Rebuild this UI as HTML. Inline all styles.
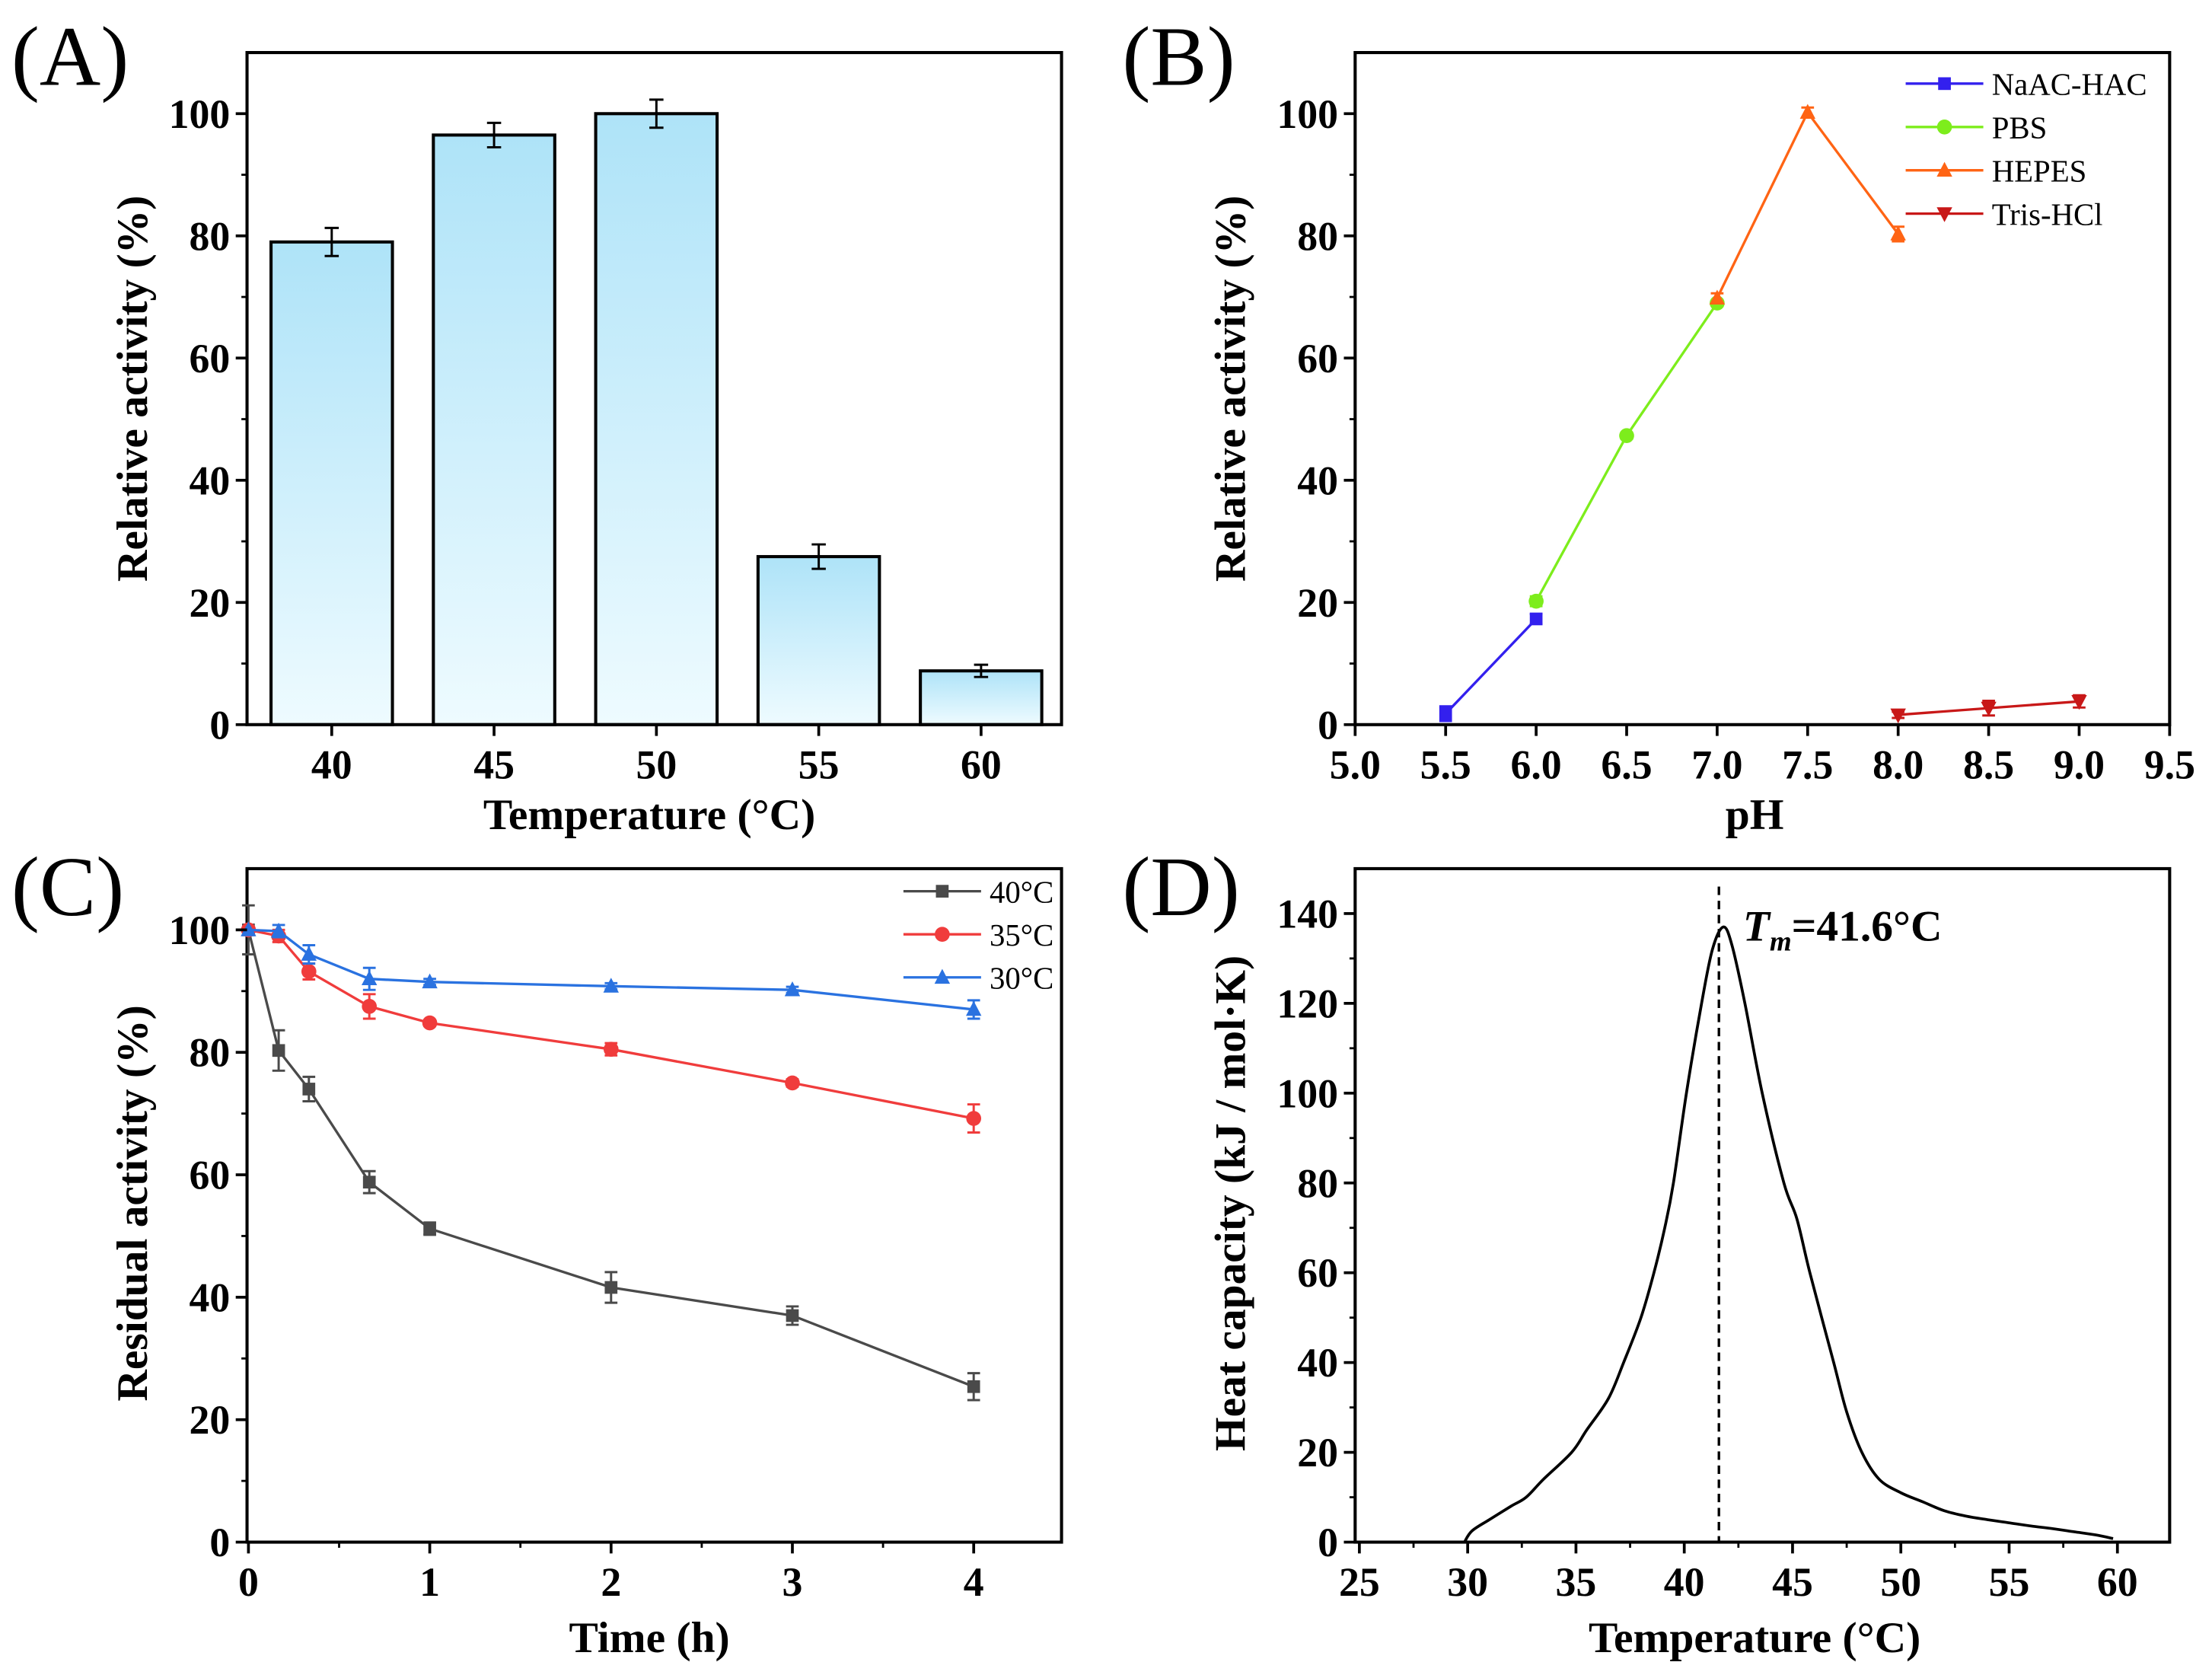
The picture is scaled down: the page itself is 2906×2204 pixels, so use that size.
<!DOCTYPE html>
<html><head><meta charset="utf-8">
<style>
html,body{margin:0;padding:0;background:#fff;}
svg{display:block;font-family:"Liberation Serif",serif;}
.tk{font-weight:bold;font-size:29px;}
.at{font-weight:bold;font-size:31px;}
.pl{font-size:60px;}
.lg{font-size:22px;}
</style></head>
<body>
<svg id="fig" width="2906" height="2204" viewBox="0 0 1567 1188" xmlns="http://www.w3.org/2000/svg">
<defs>
<linearGradient id="barg" x1="0" y1="0" x2="0" y2="1">
<stop offset="0" stop-color="#aee3f8"/><stop offset="1" stop-color="#eefbff"/>
</linearGradient>
</defs>
</svg>
<script>
// Panel A data
const aCats = ["40","45","50","55","60"];
const aVals = [79, 96.5, 100, 27.5, 8.8];
const aErr = [2.3, 2, 2.3, 2, 1];
const yTicksA = [0,20,40,60,80,100];
// Panel B data
const bNaX = [5.5, 6.0];
const bNaY = [1.8, 17.3];
const bNaE = [1.2, 0.8];
const bPbsX = [6.0, 6.5, 7.0];
const bPbsY = [20.2, 47.3, 69];
const bPbsE = [0.8, 0.5, 0.5];
const bHepX = [7.0, 7.5, 8.0];
const bHepY = [69.8, 100.2, 80.3];
const bHepE = [0.8, 0.8, 1.2];
const bTrisX = [8.0, 8.5, 9.0];
const bTrisY = [1.6, 2.7, 3.8];
const bTrisE = [0.5, 1.2, 1.0];
const xTicksB = ["5.0","5.5","6.0","6.5","7.0","7.5","8.0","8.5","9.0","9.5"];
// Panel C data
const cTimes = [0, 1/6, 1/3, 2/3, 1, 2, 3, 4];
const c40 = [100, 80.3, 74, 58.8, 51.2, 41.6, 37, 25.4];
const c40E = [4, 3.3, 2, 1.8, 1, 2.5, 1.5, 2.2];
const c35 = [100, 99, 93.2, 87.5, 84.8, 80.5, 75, 69.2];
const c35E = [0, 1, 1.3, 2, 0.5, 1, 0.6, 2.3];
const c30 = [100, 99.8, 96, 92, 91.5, 90.8, 90.2, 87];
const c30E = [0, 1, 1.5, 1.8, 0.5, 0.5, 0.5, 1.5];
const xTicksC = [0,1,2,3,4];
// Panel D data
const dT = [29.85,30.2,31,32,32.7,33.5,34.8,35.5,36.5,37.2,38,38.6,39.1,39.5,40.1,40.8,41.3,41.8,42.2,42.8,43.6,44.6,45.2,45.8,46.9,47.5,48.2,49,50,51,52,53,54,55,56,57,58,59,59.8];
const dCp = [0,2.5,5,8,10,14,20,25,32,40,50,60,70,80,100,120,132,137,133,120,100,80,72,60,40,29,20,14,11,9,7,5.8,5,4.3,3.6,3,2.3,1.6,0.8];
const dTm = 41.6;
const xTicksD = [25,30,35,40,45,50,55,60];
const yTicksD = [0,20,40,60,80,100,120,140];

const NS="http://www.w3.org/2000/svg";
const svg=document.getElementById('fig');
function mk(tag, attrs, parent, text){
  const e=document.createElementNS(NS,tag);
  for(const k in attrs) e.setAttribute(k,attrs[k]);
  if(text!==undefined) e.textContent=text;
  (parent||svg).appendChild(e);
  return e;
}
function lin(d0,d1,r0,r1){return v=>r0+(v-d0)*(r1-r0)/(d1-d0);}

function frame(g,L,T,R,B){
  const f=mk('rect',{x:L,y:T,width:R-L,height:B-T,fill:'none',stroke:'#000','stroke-width':2.2},g);
  
  
}
function yAxis(g,L,ys,ticks,minors,fmt){
  ticks.forEach(v=>{
    const t=mk('line',{x1:L-8,x2:L,y1:ys(v),y2:ys(v),stroke:'#000','stroke-width':2},g);
    
    
    const lb=mk('text',{x:L-12,y:ys(v)+10,'text-anchor':'end',class:'tk'},g,fmt?fmt(v):String(v));
    
    
  });
  minors.forEach(v=>{
    const t=mk('line',{x1:L-4,x2:L,y1:ys(v),y2:ys(v),stroke:'#000','stroke-width':1.5},g);
    
    
  });
}
function xAxis(g,B,xs,ticks,labels,minors){
  ticks.forEach((v,i)=>{
    const t=mk('line',{x1:xs(v),x2:xs(v),y1:B,y2:B+8,stroke:'#000','stroke-width':2},g);
    
    
    const lb=mk('text',{x:xs(v),y:B+38,'text-anchor':'middle',class:'tk'},g,labels[i]);
    
    
  });
  (minors||[]).forEach(v=>{
    const t=mk('line',{x1:xs(v),x2:xs(v),y1:B,y2:B+4,stroke:'#000','stroke-width':1.5},g);
    
    
  });
}
function titles(g,cx,yb,xt,yx,cy,yt,lab,lx,ly){
  const a=mk('text',{x:cx,y:yb,'text-anchor':'middle',class:'at'},g,xt);
  
  
  const b=mk('text',{x:yx,y:cy,'text-anchor':'middle',class:'at',transform:`rotate(-90 ${yx} ${cy})`},g,yt);
  
  
  const c=mk('text',{x:lx,y:ly,class:'pl'},g,lab);
  
  
}
function errbar(g,x,y1,y2,col,w){
  const e=mk('path',{d:`M${x},${y1}V${y2}M${x-w},${y1}H${x+w}M${x-w},${y2}H${x+w}`,stroke:col,'stroke-width':1.6,fill:'none'},g);
  
  
}
function marker(g,type,x,y,col,r){
  let e;
  if(type==='sq') e=mk('rect',{x:x-r,y:y-r,width:2*r,height:2*r,fill:col},g);
  else if(type==='ci') e=mk('circle',{cx:x,cy:y,r:r+0.8,fill:col},g);
  else if(type==='up') e=mk('path',{d:`M${x},${y-r-1.5}L${x+r+1},${y+r}L${x-r-1},${y+r}Z`,fill:col},g);
  else e=mk('path',{d:`M${x},${y+r+1.5}L${x+r+1},${y-r}L${x-r-1},${y-r}Z`,fill:col},g);
  
  
}
function series(g,name,xsA,ysA,esA,xs,ys,col,type,r){
  const sg=mk('g',{},g);
  
  
  const p=mk('polyline',{points:xsA.map((x,i)=>xs(x)+','+ys(ysA[i])).join(' '),fill:'none',stroke:col,'stroke-width':1.8},sg);
  
  
  xsA.forEach((x,i)=>{ if(esA[i]>0) errbar(sg,xs(x),ys(ysA[i]+esA[i]),ys(ysA[i]-esA[i]),col,4.5); });
  xsA.forEach((x,i)=>marker(sg,type,xs(x),ys(ysA[i]),col,r));
}
function legend(g,x0,y0,dy,items){
  items.forEach((it,i)=>{
    const y=y0+i*dy;
    const l=mk('line',{x1:x0,x2:x0+55,y1:y,y2:y,stroke:it.c,'stroke-width':1.8},g);
    
    
    marker(g,it.t,x0+27.5,y,it.c,4.5);
    const t=mk('text',{x:x0+61,y:y+8,class:'lg'},g,it.n);
    
    
  });
}
function smoothPath(pts){
  let d=`M${pts[0][0]},${pts[0][1]}`;
  for(let i=0;i<pts.length-1;i++){
    const p0=pts[Math.max(0,i-1)],p1=pts[i],p2=pts[i+1],p3=pts[Math.min(pts.length-1,i+2)];
    const c1x=p1[0]+(p2[0]-p0[0])/6,c1y=p1[1]+(p2[1]-p0[1])/6;
    const c2x=p2[0]-(p3[0]-p1[0])/6,c2y=p2[1]-(p3[1]-p1[1])/6;
    d+=`C${c1x},${c1y} ${c2x},${c2y} ${p2[0]},${p2[1]}`;
  }
  return d;
}

// ---- Panel A ----
(function(){
  const g=mk('g',{});
  
  
  const L=175,T=37,R=752,B=513;
  const ys=lin(0,110,B,T);
  const xs=i=>235+i*115;
  aCats.forEach((c,i)=>{
    const b=mk('rect',{x:xs(i)-43,y:ys(aVals[i]),width:86,height:B-ys(aVals[i]),fill:'url(#barg)',stroke:'#000','stroke-width':2.2},g);
    
    
    errbar(g,xs(i),ys(aVals[i]+aErr[i]),ys(aVals[i]-aErr[i]),'#000',5);
  });
  frame(g,L,T,R,B);
  yAxis(g,L,ys,yTicksA,[10,30,50,70,90]);
  xAxis(g,B,xs,[0,1,2,3,4],aCats);
  titles(g,460,587,'Temperature (°C)',104,275,'Relative activity (%)','(A)',8,60);
})();

// ---- Panel B ----
(function(){
  const g=mk('g',{});
  
  
  const L=960,T=37,R=1537,B=513;
  const ys=lin(0,110,B,T);
  const xs=lin(5,9.5,L,R);
  frame(g,L,T,R,B);
  series(g,'naac-hac-series',bNaX,bNaY,bNaE,xs,ys,'#3320ee','sq',4.5);
  series(g,'pbs-series',bPbsX,bPbsY,bPbsE,xs,ys,'#7ded1c','ci',4.5);
  series(g,'hepes-series',bHepX,bHepY,bHepE,xs,ys,'#ff6414','up',4.5);
  series(g,'tris-hcl-series',bTrisX,bTrisY,bTrisE,xs,ys,'#c81818','dn',4.5);
  yAxis(g,L,ys,yTicksA,[10,30,50,70,90]);
  xAxis(g,B,xs,xTicksB.map(Number),xTicksB);
  titles(g,1243,587,'pH',882,275,'Relative activity (%)','(B)',795,60);
  legend(g,1350,59,30.7,[{n:'NaAC-HAC',c:'#3320ee',t:'sq'},{n:'PBS',c:'#7ded1c',t:'ci'},{n:'HEPES',c:'#ff6414',t:'up'},{n:'Tris-HCl',c:'#c81818',t:'dn'}]);
})();

// ---- Panel C ----
(function(){
  const g=mk('g',{});
  
  
  const L=175,T=615,R=752,B=1092;
  const ys=lin(0,110,B,T);
  const xs=lin(0,4.5,L+1,R+2);
  frame(g,L,T,R,B);
  series(g,'series-40c',cTimes,c40,c40E,xs,ys,'#4a4a4a','sq',4.5);
  series(g,'series-35c',cTimes,c35,c35E,xs,ys,'#f03c3c','ci',4.5);
  series(g,'series-30c',cTimes,c30,c30E,xs,ys,'#2a72e0','up',4.5);
  yAxis(g,L,ys,yTicksA,[10,30,50,70,90]);
  xAxis(g,B,xs,xTicksC,xTicksC.map(String),[0.5,1.5,2.5,3.5]);
  titles(g,460,1170,'Time (h)',104,852,'Residual activity (%)','(C)',8,648);
  legend(g,640,631,30.5,[{n:'40°C',c:'#4a4a4a',t:'sq'},{n:'35°C',c:'#f03c3c',t:'ci'},{n:'30°C',c:'#2a72e0',t:'up'}]);
})();

// ---- Panel D ----
(function(){
  const g=mk('g',{});
  
  
  const L=960,T=615,R=1537,B=1092;
  const ys=lin(0,150,B,T);
  const xs=lin(25,60,963,1500);
  frame(g,L,T,R,B);
  const c=mk('path',{d:smoothPath(dT.map((t,i)=>[xs(t),ys(dCp[i])])),fill:'none',stroke:'#000','stroke-width':2,'stroke-linejoin':'round'},g);
  
  
  const d=mk('line',{x1:xs(dTm),x2:xs(dTm),y1:ys(146),y2:B,stroke:'#000','stroke-width':1.8,'stroke-dasharray':'6,4'},g);
  
  
  const t=mk('text',{x:xs(dTm)+17,y:ys(134),class:'at','font-size':'31px'},g);
  t.innerHTML='<tspan font-style="italic">T</tspan><tspan font-style="italic" font-size="20" dy="7">m</tspan><tspan dy="-7">=41.6°C</tspan>';
  
  
  yAxis(g,L,ys,yTicksD,[10,30,50,70,90,110,130]);
  xAxis(g,B,xs,xTicksD,xTicksD.map(String),[27.5,32.5,37.5,42.5,47.5,52.5,57.5]);
  titles(g,1243,1170,'Temperature (°C)',882,852,'Heat capacity (kJ / mol·K)','(D)',795,648);
})();
</script>
</body></html>
